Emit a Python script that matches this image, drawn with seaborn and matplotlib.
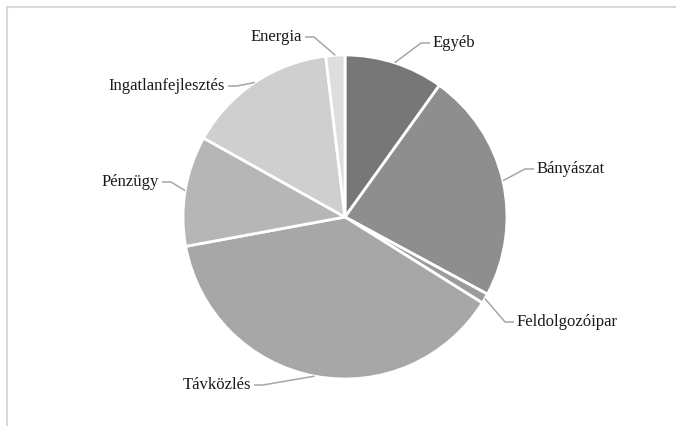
import numpy as np
import matplotlib
matplotlib.use("Agg")
import matplotlib.pyplot as plt
import seaborn as sns
from matplotlib.lines import Line2D

sectors = ["Egyéb", "Bányászat", "Feldolgozóipar", "Távközlés",
           "Pénzügy", "Ingatlanfejlesztés", "Energia"]
shares = [9.9, 23.0, 1.0, 38.2, 11.0, 15.0, 1.9]
grays = ["#777777", "#8e8e8e", "#9c9c9c", "#a7a7a7",
         "#b6b6b6", "#cfcfcf", "#dedede"]

# label anchor in pixels (x of text edge next to the leader, y centre), alignment
label_pos = {
    "Egyéb": (433, 43, "left"),
    "Bányászat": (537, 169, "left"),
    "Feldolgozóipar": (517, 322, "left"),
    "Távközlés": (251, 385, "right"),
    "Pénzügy": (159, 182, "right"),
    "Ingatlanfejlesztés": (225, 86, "right"),
    "Energia": (302, 37, "right"),
}

sns.set_theme(style="white")
plt.rcParams["font.family"] = ["Liberation Serif", "DejaVu Serif"]

W, H = 676, 426
cx, cy, R = 345, 217, 162


def px(x, y):
    return (x - cx) / R, (cy - y) / R


fig = plt.figure(figsize=(W / 100, H / 100), dpi=100)
ax = fig.add_axes([0, 0, 1, 1])

ax.pie(shares, colors=grays, startangle=90, counterclock=False,
       radius=1, center=(0, 0),
       wedgeprops=dict(edgecolor="white", linewidth=2))

x0, y0 = px(0, 0)
x1, y1 = px(W, H)
ax.set_xlim(x0, x1)
ax.set_ylim(y1, y0)
ax.set_aspect("auto")
ax.axis("off")

# leader lines + labels
total = sum(shares)
start = 0.0
for name, v in zip(sectors, shares):
    mid = np.radians((start + v / 2) / total * 360)
    start += v
    ex, ey = np.sin(mid), np.cos(mid)
    tx, ty, ha = label_pos[name]
    sgn = 1 if ha == "left" else -1
    hx0 = tx - sgn * 3
    hx1 = hx0 - sgn * 9
    ax.plot([px(hx0, ty)[0], px(hx1, ty)[0], ex],
            [px(hx0, ty)[1], px(hx1, ty)[1], ey],
            color="#a6a6a6", lw=1.1, solid_capstyle="butt")
    lx, ly = px(tx, ty)
    ax.text(lx, ly, name, ha=ha, va="center", fontsize=12, color="#1a1a1a")

# light frame, only left and top edges fall inside the picture
fig.add_artist(Line2D([6.5 / W, 1], [1 - 6.5 / H, 1 - 6.5 / H],
                      transform=fig.transFigure, color="#d9d9d9", lw=1.5))
fig.add_artist(Line2D([6.5 / W, 6.5 / W], [0, 1 - 6.5 / H],
                      transform=fig.transFigure, color="#d9d9d9", lw=1.5))

fig.savefig("out.png", dpi=100, facecolor="white")
